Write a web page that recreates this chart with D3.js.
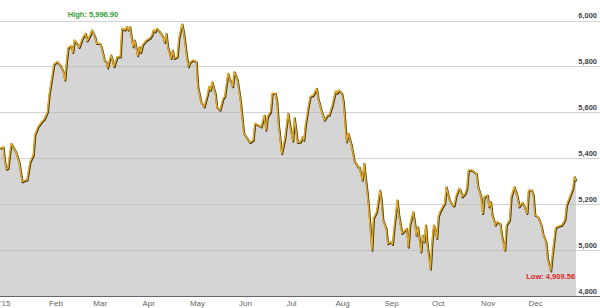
<!DOCTYPE html>
<html>
<head>
<meta charset="utf-8">
<script src="https://cdn.jsdelivr.net/npm/d3@7"></script>
<style>
  body { margin: 0; background: #fff; }
  svg { display: block; }
</style>
</head>
<body>
<script>
// index level, 2015 (day = days after Jan 1)
const days = [0,2,3,4,5,7,10,12,14,16,17,19,21,22,24,26,28,30,31,33,34,36,38,40,41,42,43,45,46,47,49,50,52,54,55,57,58,60,61,63,64,66,67,68,70,71,72,74,76,77,79,80,81,82,84,85,87,88,89,90,92,95,96,97,98,99,101,103,104,105,106,108,109,110,112,113,115,116,118,119,120,122,124,125,127,129,131,132,133,134,136,137,139,141,142,143,144,145,147,148,150,152,154,156,158,160,161,163,165,167,168,169,171,172,174,175,176,178,180,182,183,185,186,188,190,191,192,193,195,196,198,200,201,203,205,207,208,210,212,213,214,216,217,219,220,222,224,225,226,227,229,230,231,232,233,235,236,238,240,241,242,244,245,247,248,249,251,252,254,255,257,258,259,261,262,263,264,266,267,268,269,270,272,273,274,275,276,277,278,280,281,282,284,286,287,288,290,291,292,294,295,296,298,301,302,304,305,306,308,309,310,311,313,314,316,317,319,320,322,323,325,327,328,330,331,333,334,336,337,338,340,342,343,345,346,348,349,351,352,355,357,358,360,362,363,364];
const values = [5443,5450,5385,5353,5356,5465,5428,5385,5298,5305,5305,5385,5414,5501,5537,5556,5571,5603,5675,5763,5809,5821,5806,5777,5741,5821,5882,5890,5861,5915,5896,5883,5922,5944,5911,5937,5959,5929,5901,5901,5886,5828,5821,5794,5850,5828,5799,5842,5842,5966,5959,5973,5959,5973,5886,5915,5847,5886,5861,5893,5911,5925,5937,5959,5951,5966,5951,5929,5905,5944,5886,5835,5871,5835,5842,5922,5985,5951,5842,5799,5818,5828,5821,5712,5646,5624,5675,5712,5697,5733,5683,5624,5610,5661,5668,5719,5770,5748,5712,5777,5741,5646,5509,5489,5469,5479,5552,5545,5537,5588,5523,5581,5603,5683,5683,5646,5545,5421,5487,5596,5552,5475,5577,5469,5472,5494,5479,5545,5632,5668,5675,5705,5661,5610,5566,5588,5588,5632,5693,5683,5697,5683,5646,5472,5509,5458,5385,5378,5363,5363,5305,5378,5312,5254,5182,5000,5138,5167,5261,5218,5130,5095,5029,5036,5025,5095,5218,5153,5073,5080,5095,5014,5109,5167,5123,5065,5102,4993,5065,5036,5109,5022,4918,5036,5109,5087,5051,5145,5167,5193,5203,5276,5218,5196,5193,5232,5269,5261,5232,5247,5269,5349,5349,5334,5276,5232,5160,5232,5240,5189,5211,5153,5109,5123,5116,5065,5000,5109,5131,5232,5276,5232,5189,5208,5196,5160,5261,5261,5240,5153,5145,5109,5073,5036,4964,4909.56,4978,5095,5102,5109,5131,5196,5232,5269,5320,5302];

const yTicks = [4800, 5000, 5200, 5400, 5600, 5800, 6000];
const monthLabels = ["'15", "Feb", "Mar", "Apr", "May", "Jun", "Jul", "Aug", "Sep", "Oct", "Nov", "Dec"];
const highLabel = "High: 5,996.90";
const lowLabel = "Low: 4,909.56";

const width = 600, height = 308;
const start = new Date(2015, 0, 1), end = new Date(2015, 11, 31);

const data = days.map((d, i) => ({ date: d3.timeDay.offset(start, d), value: values[i] }));

const svg = d3.select('body').append('svg')
  .attr('width', width)
  .attr('height', height)
  .style('font-family', 'Arial, "Liberation Sans", sans-serif');

const xScale = d3.scaleTime().domain([start, end]).range([0, 576]);
const yScale = d3.scaleLinear().domain([4800, 6000]).range([296, 20.5]);

// area under the line
svg.append('path')
  .datum(data)
  .attr('d', d3.area().x(d => xScale(d.date)).y0(yScale(4800)).y1(d => yScale(d.value)))
  .attr('fill', '#d5d5d5');

// horizontal grid, drawn over the area
svg.append('g').selectAll('line')
  .data(yTicks.filter(t => t > 4800))
  .enter().append('line')
  .attr('x1', 0).attr('x2', width)
  .attr('y1', d => Math.round(yScale(d)) + 0.5)
  .attr('y2', d => Math.round(yScale(d)) + 0.5)
  .attr('stroke', '#b4b4b4')
  .attr('stroke-opacity', 0.6);

// baseline
svg.append('line')
  .attr('x1', 0).attr('x2', width)
  .attr('y1', Math.round(yScale(4800)) + 0.5)
  .attr('y2', Math.round(yScale(4800)) + 0.5)
  .attr('stroke', '#666');

// y labels on the right
svg.append('g').selectAll('text')
  .data(yTicks)
  .enter().append('text')
  .attr('x', 597)
  .attr('y', d => yScale(d) - 2.5)
  .attr('text-anchor', 'end')
  .attr('font-size', 7.5)
  .attr('font-weight', 'bold')
  .attr('fill', '#444')
  .text(d => d3.format(',')(d));

// month labels
const months = d3.timeMonths(start, end);
svg.append('g').selectAll('text')
  .data(months)
  .enter().append('text')
  .attr('x', d => xScale(d))
  .attr('y', 306)
  .attr('font-size', 8)
  .attr('fill', '#666')
  .text((d, i) => monthLabels[i]);

// price line with dark shadow
const line = d3.line().x(d => xScale(d.date)).y(d => yScale(d.value));
svg.append('path')
  .datum(data)
  .attr('d', line)
  .attr('transform', 'translate(0.5,0.7)')
  .attr('fill', 'none')
  .attr('stroke', '#3d2e08')
  .attr('stroke-width', 2)
  .attr('stroke-linejoin', 'round');
svg.append('path')
  .datum(data)
  .attr('d', line)
  .attr('fill', 'none')
  .attr('stroke', '#deaa2c')
  .attr('stroke-width', 1.5)
  .attr('stroke-linejoin', 'round');

// high / low annotations
const low = data.reduce((a, b) => (b.value < a.value ? b : a));
svg.append('text')
  .attr('x', 93)
  .attr('y', 17)
  .attr('text-anchor', 'middle')
  .attr('font-size', 7.5)
  .attr('font-weight', 'bold')
  .attr('fill', '#2e9e2e')
  .text(highLabel);
svg.append('text')
  .attr('x', xScale(low.date))
  .attr('y', yScale(low.value) + 8)
  .attr('text-anchor', 'middle')
  .attr('font-size', 7.5)
  .attr('font-weight', 'bold')
  .attr('fill', '#e02424')
  .text(lowLabel);
</script>
</body>
</html>
